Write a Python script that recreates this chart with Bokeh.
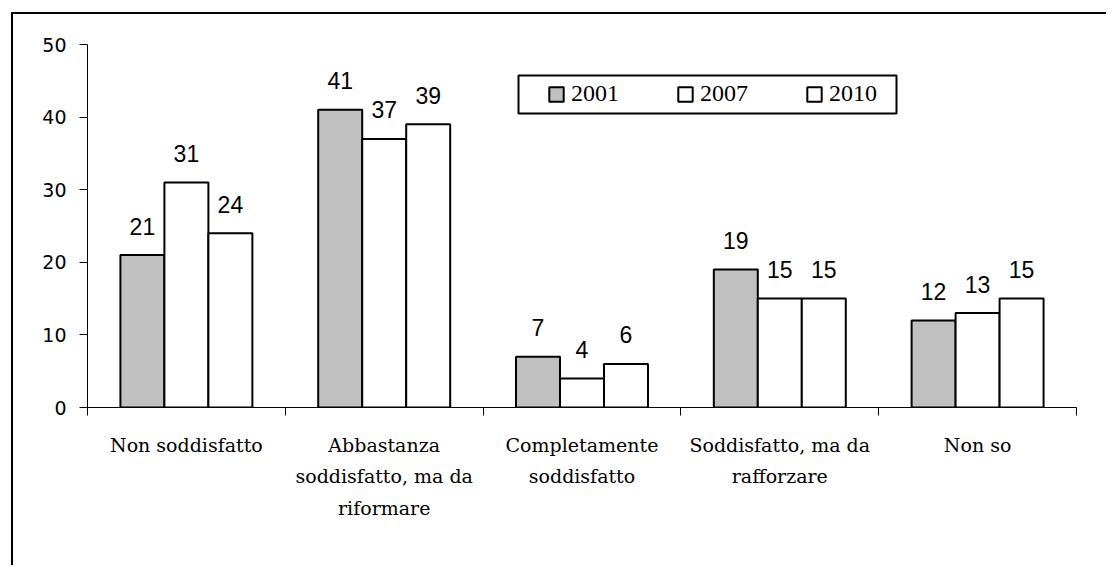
from bokeh.plotting import figure
from bokeh.models import (FactorRange, Range1d, ColumnDataSource, LinearAxis, CategoricalAxis,
                          FixedTicker, BoxAnnotation)
from bokeh.transform import dodge
from bokeh.core.properties import value
from bokeh.embed import file_html
from bokeh.resources import INLINE

categories = ["Non soddisfatto", "Abbastanza\nsoddisfatto, ma da\nriformare",
              "Completamente\nsoddisfatto", "Soddisfatto, ma da\nrafforzare", "Non so"]
years = ["2001", "2007", "2010"]
v2001 = [21, 41, 7, 19, 12]
v2007 = [31, 37, 4, 15, 13]
v2010 = [24, 39, 6, 15, 15]
y_ticks = [0, 10, 20, 30, 40, 50]

series = {"2001": v2001, "2007": v2007, "2010": v2010}
colors = {"2001": "#c0c0c0", "2007": "#ffffff", "2010": "#ffffff"}
offsets = {"2001": -0.2224, "2007": 0.0, "2010": 0.2224}
bar_w = 0.2224

p = figure(x_range=FactorRange(*categories), y_range=Range1d(0, 50),
           width=1095, height=553, output_backend="svg", toolbar_location=None,
           x_axis_location=None, min_border_left=74, min_border_right=32,
           min_border_top=30, min_border_bottom=160,
           styles={"margin-left": "11px", "margin-top": "12px",
                   "border-left": "2px solid black", "border-top": "2px solid black"})
p.background_fill_color = "white"
p.border_fill_color = "white"
p.outline_line_color = None
p.xgrid.visible = False
p.ygrid.visible = False

for yr in years:
    src = ColumnDataSource(dict(cat=categories, val=series[yr],
                                lab=[str(v) for v in series[yr]]))
    xs = dodge("cat", offsets[yr], range=p.x_range)
    p.vbar(x=xs, top="val", bottom=0, width=bar_w, source=src,
           fill_color=colors[yr], line_color="black", line_width=2, legend_label=yr)
    p.text(x=xs, y="val", text="lab", source=src, text_align="center",
           text_baseline="alphabetic", y_offset=-29, text_font=value("Liberation Sans"),
           text_font_size="23px", text_color="black")

# y axis
ya = p.yaxis[0]
ya.ticker = FixedTicker(ticks=y_ticks, minor_ticks=[])
ya.major_tick_out = 8
ya.major_tick_in = 0
ya.minor_tick_line_color = None
ya.axis_line_color = "black"
ya.major_tick_line_color = "black"
ya.major_label_text_font = "DejaVu Sans"
ya.major_label_text_font_size = "19px"
ya.major_label_text_color = "black"
ya.major_label_standoff = 13

# x axis: boundary ticks (between categories) + category labels
bounds = list(range(len(categories) + 1))
tick_axis = LinearAxis(ticker=FixedTicker(ticks=bounds, minor_ticks=[]),
                       major_label_overrides={b: "" for b in bounds},
                       major_label_text_font_size="0px", major_label_text_color=None,
                       major_label_standoff=0,
                       major_tick_out=8, major_tick_in=0, axis_line_color="black",
                       major_tick_line_color="black", minor_tick_line_color=None)
p.add_layout(tick_axis, "below")
cat_axis = CategoricalAxis(axis_line_color=None, major_tick_line_color=None,
                           minor_tick_line_color=None,
                           major_label_text_font="DejaVu Serif",
                           major_label_text_font_size="19px",
                           major_label_text_line_height=1.45,
                           major_label_text_color="black",
                           major_label_standoff=12)
p.add_layout(cat_axis, "below")

# legend
lg = p.legend[0]
lg.orientation = "horizontal"
lg.location = (460, 300)
lg.border_line_color = None
lg.background_fill_alpha = 0
lg.padding = 8
lg.spacing = 55
lg.glyph_width = 18
lg.glyph_height = 18
lg.label_standoff = 6
lg.label_width = 50
lg.label_text_font = "Liberation Serif"
lg.label_text_font_size = "24px"
lg.label_text_color = "black"
lg.margin = 0

legend_box = BoxAnnotation(left=431, right=809, top=332, bottom=294,
                           left_units="screen", right_units="screen",
                           top_units="screen", bottom_units="screen",
                           fill_alpha=0, line_color="black", line_width=2, line_alpha=1)
p.add_layout(legend_box)

open("out.html", "w").write(file_html(p, INLINE))
